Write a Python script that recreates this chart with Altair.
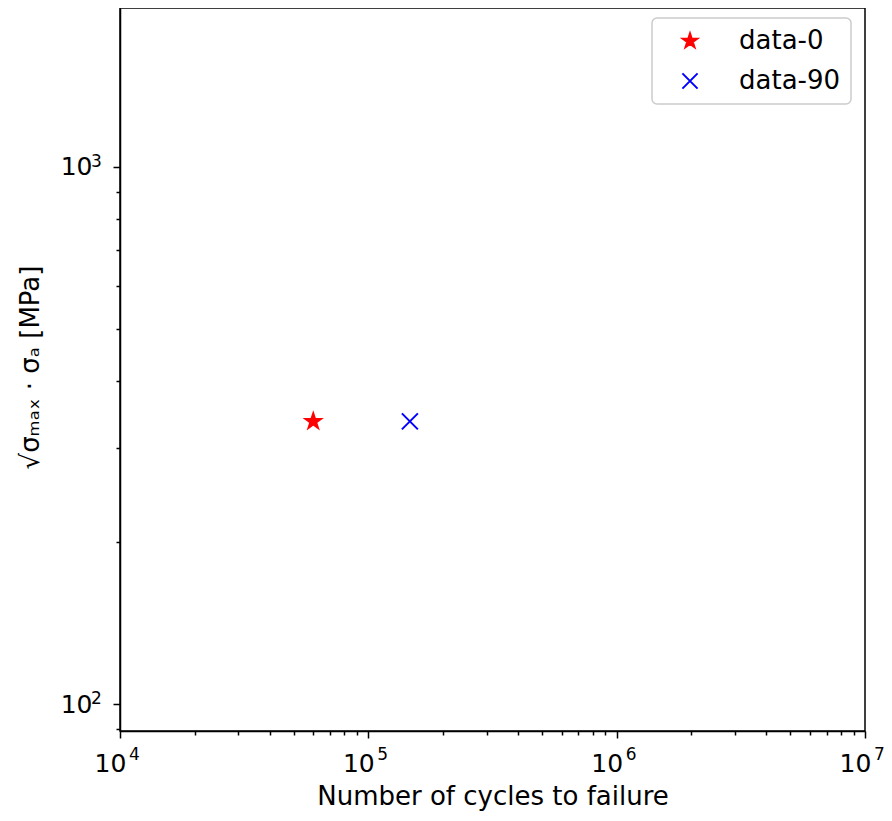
import altair as alt
import pandas as pd

# ---- data ----
series = ["data-0", "data-90"]
cycles = [60000, 147000]
stress = [336, 336]
fill_colors = ["#ff0000", "transparent"]
stroke_colors = ["#ff0000", "#0000ff"]

x_domain = [1e4, 1e7]
y_domain = [89.1, 1977]
x_tick_values = [k * 10 ** e for e in (4, 5, 6) for k in range(1, 10)] + [1e7]
y_tick_values = [90] + [k * 100 for k in range(1, 10)] + [1000]

# decade labels: base "10" from the axis, exponent drawn as superscript text
x_major = [1e4, 1e5, 1e6, 1e7]
x_exponents = ["4", "5", "6", "7"]
y_major = [100, 1000]
y_exponents = ["2", "3"]

STAR = ("M0,-1L0.2245,-0.309L0.951,-0.309L0.363,0.118L0.588,0.809L0,0.382"
        "L-0.588,0.809L-0.363,0.118L-0.951,-0.309L-0.2245,-0.309Z")
XMARK = "M-1,-1L1,1M-1,1L1,-1"

W, H = 745, 723

df = pd.DataFrame({"series": series, "cycles": cycles, "stress": stress})
df_xexp = pd.DataFrame({"cycles": x_major, "exp": x_exponents})
df_yexp = pd.DataFrame({"stress": y_major, "exp": y_exponents})

FONT = "DejaVu Sans"
major_test = "abs(log(datum.value)/LN10 - round(log(datum.value)/LN10)) < 1e-6"
label_expr = f"({major_test}) ? '10' : ''"
tick_size = {"condition": {"test": major_test, "value": 7}, "value": 4}

common_axis = dict(
    labelExpr=label_expr,
    labelOverlap=False,
    labelFlush=False,
    grid=False,
    tickSize=tick_size,
    tickColor="black",
    tickWidth=1.5,
    domainColor="black",
    domainWidth=1.5,
    labelFont=FONT,
    labelFontSize=25,
    labelColor="black",
    titleFont=FONT,
    titleFontSize=26,
    titleFontWeight="normal",
    titleColor="black",
)

x_axis = alt.Axis(
    title="Number of cycles to failure",
    values=x_tick_values,
    labelPadding=13,
    labelOffset=-10,
    titleX=W / 2,
    titleY=73,
    titleBaseline="alphabetic",
    titleAlign="center",
    **common_axis,
)

y_axis = alt.Axis(
    title="√σₘₐₓ · σₐ  [MPa]",
    values=y_tick_values,
    labelPadding=21,
    titleX=-90,
    titleY=359,
    titleAngle=270,
    titleBaseline="middle",
    titleAlign="center",
    **common_axis,
)

x_enc = alt.X("cycles:Q", scale=alt.Scale(type="log", domain=x_domain, nice=False), axis=x_axis)
y_enc = alt.Y("stress:Q", scale=alt.Scale(type="log", domain=y_domain, nice=False), axis=y_axis)

points = alt.Chart(df).mark_point(
    size=256, strokeWidth=2, opacity=1, fillOpacity=1
).encode(
    x=x_enc,
    y=y_enc,
    shape=alt.Shape("series:N", scale=alt.Scale(domain=series, range=[STAR, XMARK]),
                    legend=alt.Legend(title=None)),
    fill=alt.Fill("series:N", scale=alt.Scale(domain=series, range=fill_colors),
                  legend=alt.Legend(title=None)),
    stroke=alt.Stroke("series:N", scale=alt.Scale(domain=series, range=stroke_colors),
                      legend=alt.Legend(title=None)),
)

x_sup = alt.Chart(df_xexp).mark_text(
    font=FONT, fontSize=17, color="black", align="left", baseline="alphabetic", dx=9
).encode(
    x=x_enc,
    y=alt.value(H + 29),
    text="exp:N",
)

y_sup = alt.Chart(df_yexp).mark_text(
    font=FONT, fontSize=17, color="black", align="left", baseline="alphabetic", dy=0
).encode(
    x=alt.value(-29),
    y=y_enc,
    text="exp:N",
)

chart = alt.layer(points, x_sup, y_sup).properties(
    width=W,
    height=H,
    autosize=alt.AutoSizeParams(type="none"),
    padding={"left": 112, "top": 0, "right": 19, "bottom": 80},
).configure_view(
    stroke="black", strokeWidth=1.5
).configure_legend(
    orient="none",
    legendX=532,
    legendY=10,
    padding=10,
    strokeColor="#cccccc",
    strokeWidth=1.5,
    cornerRadius=5,
    fillColor="white",
    labelFont=FONT,
    labelFontSize=26,
    labelColor="black",
    labelOffset=36,
    symbolSize=230,
    symbolStrokeWidth=2,
    symbolOffset=15,
    rowPadding=14,
    labelLimit=300,
)

chart.save("out.html", embed_options={"renderer": "svg", "actions": False})
